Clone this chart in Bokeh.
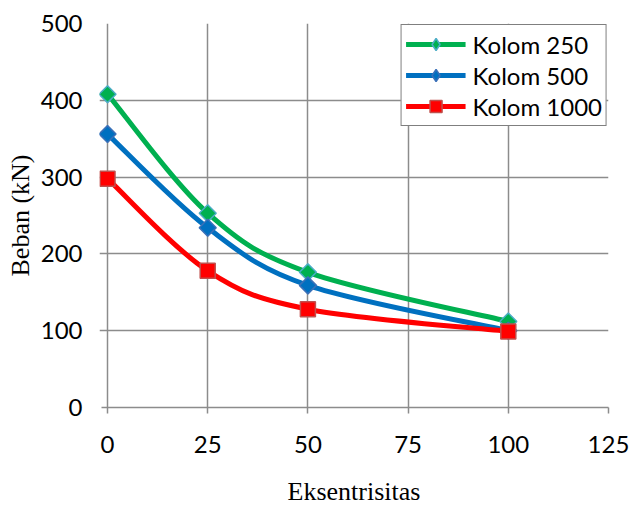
import numpy as np
from bokeh.plotting import figure
from bokeh.models import (ColumnDataSource, Legend, LegendItem, FixedTicker,
                          Range1d)
from bokeh.embed import file_html
from bokeh.resources import INLINE

# ---- data ----
eksentrisitas = [0, 25, 50, 100]
kolom_250 = [408, 253, 176, 112]
kolom_500 = [356, 234, 159, 100]
kolom_1000 = [298, 178, 128, 99]
x_ticks = [0, 25, 50, 75, 100, 125]
y_ticks = [0, 100, 200, 300, 400, 500]
series_names = ["Kolom 250", "Kolom 500", "Kolom 1000"]

p = figure(width=633, height=508, output_backend="svg", toolbar_location=None,
           x_range=Range1d(-2.0, 125), y_range=Range1d(0, 500),
           min_border_left=99, min_border_right=25, min_border_top=23,
           min_border_bottom=101)
p.outline_line_color = None
p.background_fill_color = "white"
p.border_fill_color = "white"

for ax in (p.xaxis[0], p.yaxis[0]):
    ax.axis_line_color = "#8c8c8c"
    ax.axis_line_width = 1.5
    ax.major_tick_line_color = "#8c8c8c"
    ax.major_tick_line_width = 1.5
    ax.minor_tick_line_color = None
    ax.major_label_text_font = "Lato"
    ax.major_label_text_font_size = "24px"
    ax.major_label_text_color = "black"
    ax.axis_label_text_font = "Liberation Serif"
    ax.axis_label_text_font_size = "26px"
    ax.axis_label_text_font_style = "normal"
    ax.axis_label_text_color = "black"

p.xaxis[0].major_tick_out = 6
p.xaxis[0].major_tick_in = 0
p.xaxis[0].bounds = (-1.5, 125)
p.yaxis[0].axis_line_color = None
p.yaxis[0].major_tick_line_color = None
p.yaxis[0].major_tick_out = 0
p.yaxis[0].major_tick_in = 0

p.xaxis[0].ticker = FixedTicker(ticks=x_ticks)
p.yaxis[0].ticker = FixedTicker(ticks=y_ticks)
p.xaxis[0].axis_label = "Eksentrisitas"
p.yaxis[0].axis_label = "Beban (kN)"
p.xaxis[0].major_label_standoff = 22
p.xaxis[0].axis_label_standoff = 21
p.yaxis[0].major_label_standoff = 17
p.yaxis[0].axis_label_standoff = 3

for g in (p.xgrid[0], p.ygrid[0]):
    g.grid_line_color = "#8c8c8c"
    g.grid_line_width = 1.5
p.xgrid[0].ticker = FixedTicker(ticks=x_ticks)
p.ygrid[0].ticker = FixedTicker(ticks=y_ticks)


def smooth_segments(xs, ys):
    xs = np.asarray(xs, float)
    ys = np.asarray(ys, float)
    n = len(xs)
    out = dict(x0=[], y0=[], x1=[], y1=[], cx0=[], cy0=[], cx1=[], cy1=[])
    for i in range(n - 1):
        i0 = max(i - 1, 0)
        i3 = min(i + 2, n - 1)
        out["x0"].append(xs[i]); out["y0"].append(ys[i])
        out["x1"].append(xs[i + 1]); out["y1"].append(ys[i + 1])
        out["cx0"].append(xs[i] + (xs[i + 1] - xs[i0]) / 6)
        out["cy0"].append(ys[i] + (ys[i + 1] - ys[i0]) / 6)
        out["cx1"].append(xs[i + 1] - (xs[i3] - xs[i]) / 6)
        out["cy1"].append(ys[i + 1] - (ys[i3] - ys[i]) / 6)
    return out


styles = [
    dict(line="#00B050", fill="#00B050", outline="#4BACC6", diamond=True, size=12),
    dict(line="#0070C0", fill="#0070C0", outline="#3A70B8", diamond=True, size=12),
    dict(line="#FF0000", fill="#FF0000", outline="#C0504D", diamond=False, size=15),
]

items = []
for name, ys, st in zip(series_names, [kolom_250, kolom_500, kolom_1000], styles):
    seg = ColumnDataSource(smooth_segments(eksentrisitas, ys))
    bz = p.bezier(x0="x0", y0="y0", x1="x1", y1="y1", cx0="cx0", cy0="cy0",
                  cx1="cx1", cy1="cy1", source=seg, line_color=st["line"], line_width=5)
    if st["diamond"]:
        # diamond marker used for the legend swatch (hidden beneath the plot markers)
        leg_mk = p.scatter(x=eksentrisitas, y=ys, marker="diamond", size=8,
                           fill_color=st["fill"], line_color=st["outline"], line_width=1.5)
        p.scatter(x=eksentrisitas, y=ys, marker="square", size=st["size"],
                  angle=np.pi / 4, fill_color=st["fill"],
                  line_color=st["outline"], line_width=1.5)
    else:
        leg_mk = p.scatter(x=eksentrisitas, y=ys, marker="square", size=st["size"],
                           fill_color=st["fill"], line_color=st["outline"], line_width=1.5)
    items.append(LegendItem(label=name, renderers=[bz, leg_mk], index=0))

legend = Legend(items=items, location="top_right")
legend.border_line_color = "black"
legend.border_line_width = 1.5
legend.background_fill_color = "white"
legend.background_fill_alpha = 1
legend.label_text_font = "Lato"
legend.label_text_font_size = "24px"
legend.label_text_color = "black"
legend.glyph_width = 60
legend.glyph_height = 30
legend.spacing = 1
legend.padding = 4
legend.margin = 1
legend.label_standoff = 7
legend.label_height = 24
p.add_layout(legend)

open("out.html", "w").write(file_html(p, INLINE))
